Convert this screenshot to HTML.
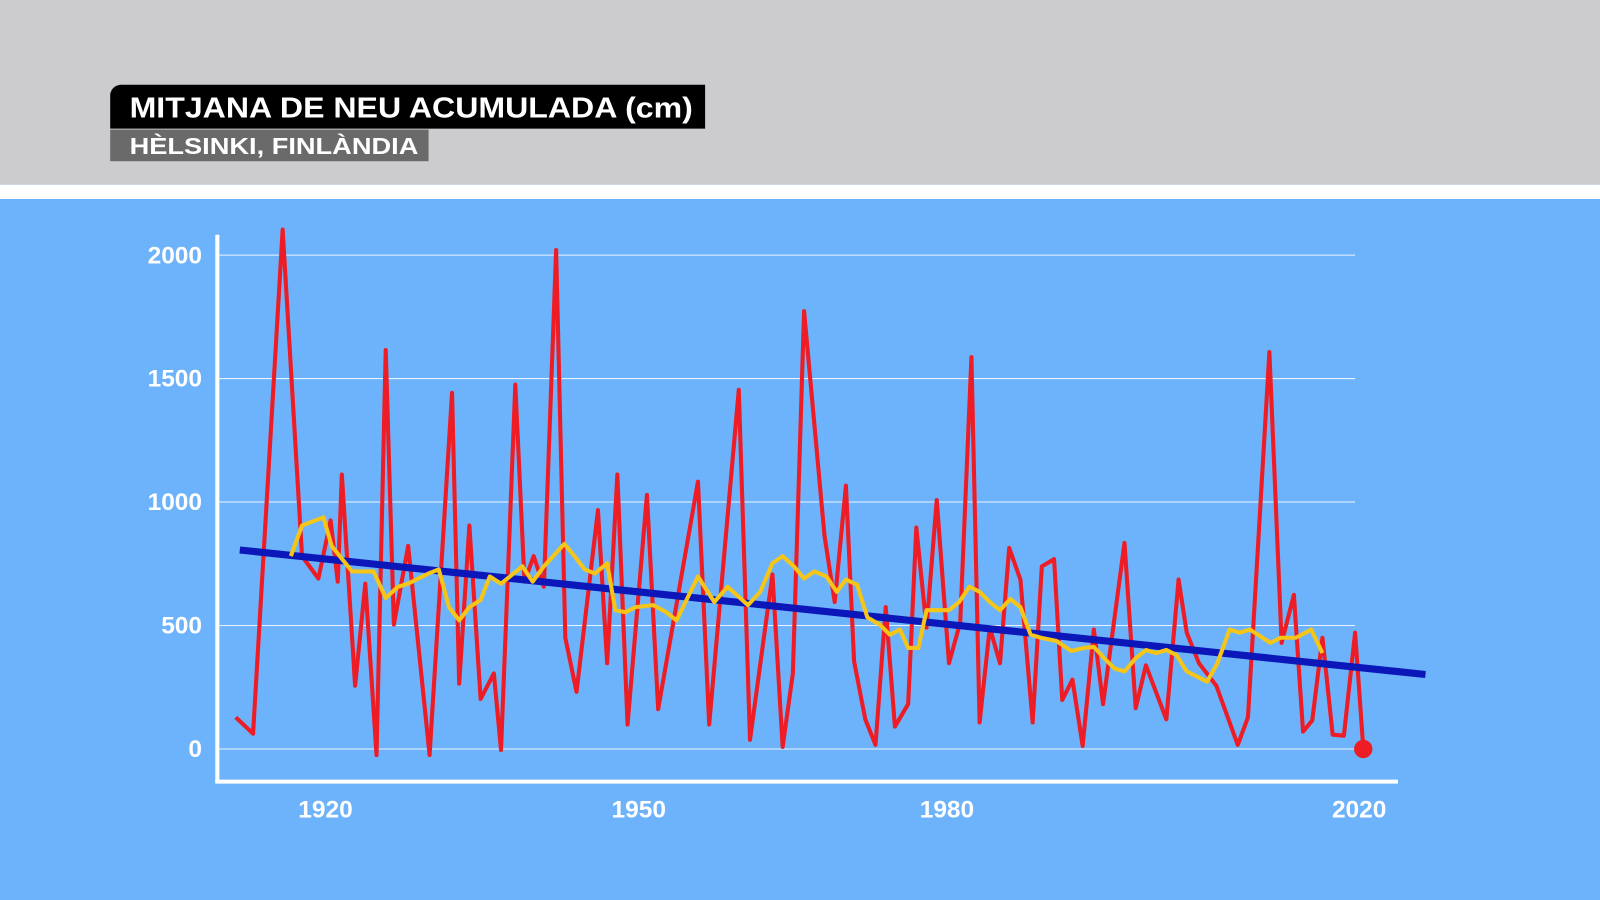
<!DOCTYPE html>
<html><head><meta charset="utf-8"><style>
html,body{margin:0;padding:0;width:1600px;height:900px;overflow:hidden;background:#6db3fb}
svg{display:block}
text{font-family:"Liberation Sans",sans-serif;font-weight:bold;fill:#fff}
</style></head><body>
<svg width="1600" height="900" viewBox="0 0 1568 882" preserveAspectRatio="none">
<rect x="0" y="0" width="1568" height="181" fill="#cccbce"/>
<rect x="0" y="181" width="1568" height="14" fill="#fff"/>
<rect x="0" y="195" width="1568" height="687" fill="#6db3fb"/>
<path d="M108,92 Q110,84 118,83 L691,83 L691,126 L108,126 Z" fill="#000"/>
<text x="127" y="115" font-size="28" textLength="552" lengthAdjust="spacingAndGlyphs">MITJANA DE NEU ACUMULADA (cm)</text>
<rect x="108" y="127" width="312" height="31" fill="#6a6a6a"/>
<text x="127" y="151" font-size="23" textLength="283" lengthAdjust="spacingAndGlyphs">HÈLSINKI, FINLÀNDIA</text>
<g stroke="#fff" stroke-width="1" opacity="0.85">
<line x1="213" y1="250" x2="1328" y2="250"/>
<line x1="213" y1="371" x2="1328" y2="371"/>
<line x1="213" y1="492" x2="1328" y2="492"/>
<line x1="213" y1="613" x2="1328" y2="613"/>
<line x1="213" y1="734" x2="1328" y2="734"/>
</g>
<g stroke="#fff" stroke-width="4" fill="none">
<line x1="213" y1="230" x2="213" y2="767"/>
<line x1="211" y1="766" x2="1370" y2="766"/>
</g>
<g font-size="24" text-anchor="end">
<text x="198" y="258">2000</text>
<text x="198" y="379">1500</text>
<text x="198" y="500">1000</text>
<text x="198" y="621">500</text>
<text x="198" y="742">0</text>
</g>
<g font-size="24" text-anchor="middle">
<text x="319" y="801">1920</text>
<text x="626" y="801">1950</text>
<text x="928" y="801">1980</text>
<text x="1332" y="801">2020</text>
</g>
<polyline fill="none" stroke="#ee1c25" stroke-width="4" stroke-linejoin="round" points="231,703 248,719 277,225 296,545 312,567 324,510 331,570 335,465 348,672 358,572 369,740 378,343 386,612 400,535 421,740 443,385 450,670 460,515 471,685 484,660 491,735 505,377 514,570 523,545 533,575 545,245 554,625 565,678 586,500 595,650 605,465 615,710 634,485 645,695 684,472 695,710 724,382 735,725 757,563 767,732 777,660 788,305 808,525 818,590 829,476 837,648 848,705 858,730 868,595 877,712 890,690 898,517 908,615 918,490 930,650 941,610 952,350 960,708 970,615 980,650 989,537 1000,568 1012,708 1021,555 1033,548 1041,686 1051,666 1061,731 1072,617 1081,690 1102,532 1113,694 1123,652 1143,705 1155,568 1163,620 1175,650 1192,672 1213,730 1223,703 1244,345 1256,630 1268,583 1277,717 1286,706 1296,625 1306,720 1317,721 1328,620 1336,733"/>
<line x1="235" y1="539" x2="1397" y2="661" stroke="#0b17b8" stroke-width="7"/>
<polyline fill="none" stroke="#f5c518" stroke-width="4" stroke-linejoin="round" points="285,545 296,515 317,507 325,535 345,560 355,560 366,560 378,586 390,575 400,572 420,562 430,558 440,595 450,608 460,595 471,588 480,565 491,572 512,555 522,570 533,555 553,533 563,545 573,558 583,562 595,552 603,598 613,600 623,595 640,593 653,600 663,608 684,565 700,590 713,575 733,593 745,580 757,552 767,545 778,555 788,567 798,560 810,565 820,580 829,568 840,573 850,605 862,612 872,622 882,617 890,635 900,635 908,598 930,598 940,590 950,575 960,580 970,590 980,598 990,587 1000,595 1010,622 1020,625 1035,628 1050,638 1062,635 1072,634 1082,645 1092,655 1102,658 1113,645 1123,637 1133,640 1143,637 1153,642 1163,658 1173,663 1183,668 1193,650 1205,617 1215,620 1225,617 1245,630 1255,625 1270,625 1285,617 1296,640"/>
<circle cx="1336" cy="734" r="9" fill="#ee1c25"/>
</svg>
</body></html>
